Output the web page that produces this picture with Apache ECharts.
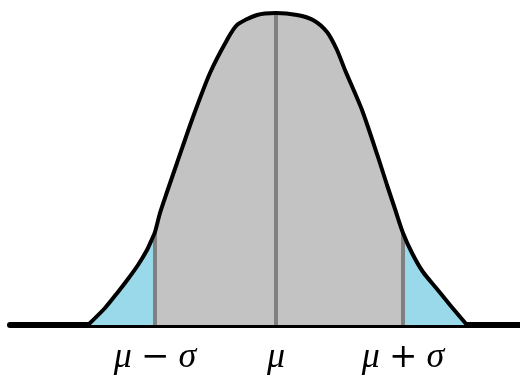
<!DOCTYPE html>
<html>
<head>
<meta charset="utf-8">
<script src="https://cdn.jsdelivr.net/npm/echarts@6/dist/echarts.min.js"></script>
<style>
  html, body { margin: 0; padding: 0; background: #fff; }
  #bell { width: 520px; height: 376px; }
</style>
</head>
<body>
<div id="bell"></div>
<script>
// bell curve (x position, height above the baseline)
var curveX = [88, 105, 118, 128, 138, 147, 152, 155, 160, 167, 177, 193, 210, 227, 237, 257, 276,
  297, 313, 327, 337, 345, 362, 378, 387, 395, 403, 412, 423, 437, 450, 467];
var curveY = [0, 17, 33, 46, 60, 75, 86, 93, 112, 133, 162, 208, 252, 285, 300, 310, 312,
  310, 305, 293, 275, 255, 215, 168, 140, 116, 92, 72, 53, 36, 20, 0];
// mu - sigma, mu, mu + sigma
var markX = [155, 276, 403];
var markLabels = ["{i|μ}{o|−}{i|σ}", "{i|μ}", "{i|μ}{o|+}{i|σ}"];

var pts = curveX.map(function (x, i) { return [x, curveY[i]]; });

function heightAt(x) {
  var i = curveX.indexOf(x);
  return i >= 0 ? curveY[i] : 0;
}

var dom = document.getElementById("bell");
var myChart = echarts.init(dom);

var stems = markX.map(function (x) {
  return {
    type: "line",
    data: [[x, 0], [x, heightAt(x)]],
    symbol: "none",
    lineStyle: { color: "#808080", width: 4 },
    z: 3,
    silent: true,
  };
});

var option = {
  animation: false,
  grid: { left: 10, right: 0, top: 0, bottom: 51 },
  xAxis: {
    type: "value",
    min: 10,
    max: 520,
    axisLine: { lineStyle: { color: "#000", width: 6 } },
    axisTick: { show: false },
    splitLine: { show: false },
    axisLabel: {
      customValues: markX,
      margin: 15,
      color: "#000",
      fontFamily: "Liberation Serif",
      fontSize: 36,
      formatter: function (v) {
        return markLabels[markX.indexOf(v)] || "";
      },
      rich: {
        i: { fontFamily: "Liberation Serif", fontStyle: "italic", fontSize: 36, color: "#000" },
        o: { fontFamily: "DejaVu Serif", fontSize: 34, color: "#000", padding: [0, 9, 0, 9] },
      },
    },
  },
  yAxis: { type: "value", min: 0, max: 325, show: false, splitLine: { show: false } },
  visualMap: {
    type: "piecewise",
    show: false,
    dimension: 0,
    seriesIndex: 0,
    pieces: [
      { lt: markX[0], color: "#99d9ea" },
      { gte: markX[0], lte: markX[2], color: "#c3c3c3" },
      { gt: markX[2], color: "#99d9ea" },
    ],
  },
  series: [
    {
      type: "line",
      data: pts,
      smooth: 0.25,
      symbol: "none",
      lineStyle: { width: 0 },
      areaStyle: { opacity: 1 },
      z: 2,
    },
  ].concat(stems, [
    {
      type: "line",
      data: pts,
      smooth: 0.25,
      symbol: "none",
      lineStyle: { color: "#000", width: 4 },
      z: 4,
    },
  ]),
};
myChart.setOption(option);
</script>
</body>
</html>
